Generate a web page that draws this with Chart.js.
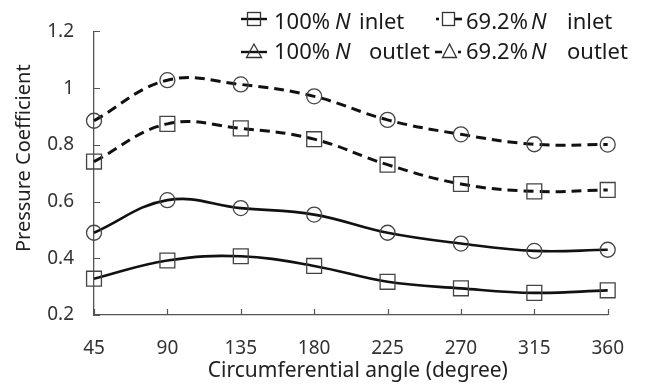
<!DOCTYPE html>
<html>
<head>
<meta charset="utf-8">
<script src="https://cdn.jsdelivr.net/npm/chart.js@4.4.1/dist/chart.umd.min.js"></script>
<style>
  html,body{margin:0;padding:0;background:#fff;}
  #wrap{position:relative;width:646px;height:388px;overflow:hidden;}
  #c{position:absolute;left:0;top:0;}
  .lg{position:absolute;font-family:"Noto Sans",sans-serif;font-size:22px;line-height:22px;color:#1a1a1a;white-space:nowrap;}
  .lg i{font-style:italic;}
  .mk{position:absolute;}
</style>
</head>
<body>
<div id="wrap">
  <canvas id="c" width="646" height="388"></canvas>
  <div id="legend"></div>
</div>
<script>
// ---- data ----
const angles = [45, 90, 135, 180, 225, 270, 315, 360];
const inlet100  = [0.328, 0.392, 0.407, 0.373, 0.317, 0.294, 0.278, 0.287];
const outlet100 = [0.490, 0.605, 0.577, 0.554, 0.490, 0.452, 0.426, 0.430];
const inlet692  = [0.741, 0.874, 0.858, 0.820, 0.730, 0.662, 0.636, 0.641];
const outlet692 = [0.885, 1.028, 1.013, 0.971, 0.888, 0.837, 0.802, 0.801];
const yTickValues = [0.2, 0.4, 0.6, 0.8, 1.0, 1.2];
const yTickLabels = ['0.2', '0.4', '0.6', '0.8', '1', '1.2'];
const xTickLabels = ['45', '90', '135', '180', '225', '270', '315', '360'];
const legendPrefix = ['100%', '69.2%', '100%', '69.2%'];
const legendSuffix = ['inlet', 'inlet', 'outlet', 'outlet'];
const xTitle = 'Circumferential angle (degree)';
const yTitle = 'Pressure Coefficient';

const FONT = '"Noto Sans", sans-serif';
const pts = arr => arr.map((v, i) => ({x: angles[i], y: v}));

function ds(label, arr, style, dashed) {
  return {
    label: label,
    data: pts(arr),
    borderColor: '#111',
    borderWidth: dashed ? 3 : 2.6,
    borderDash: dashed ? [10, 6] : [],
    tension: 0.4,
    pointStyle: style,
    pointRadius: style === 'rect' ? 10.5 : 7.5,
    pointBorderColor: '#444',
    pointBorderWidth: 1.3,
    pointBackgroundColor: 'rgba(0,0,0,0)',
    clip: false
  };
}

const innerTicks = {
  id: 'innerTicks',
  afterDraw(chart) {
    const ctx = chart.ctx, x = chart.scales.x, y = chart.scales.y;
    const a = chart.chartArea;
    ctx.save();
    ctx.strokeStyle = '#555';
    ctx.lineWidth = 1.2;
    ctx.beginPath();
    angles.forEach(v => {
      const px = Math.round(x.getPixelForValue(v)) + 0.5;
      ctx.moveTo(px, a.bottom);
      ctx.lineTo(px, a.bottom - 6);
    });
    yTickValues.forEach(v => {
      const py = Math.round(y.getPixelForValue(v)) + 0.5;
      ctx.moveTo(a.left, py);
      ctx.lineTo(a.left + 6, py);
    });
    ctx.stroke();
    // axis titles
    ctx.fillStyle = '#222';
    ctx.textAlign = 'center';
    ctx.textBaseline = 'middle';
    ctx.font = '21px ' + FONT;
    ctx.fillText(xTitle, (a.left + a.right) / 2 + 7, 371);
    ctx.font = '20px ' + FONT;
    ctx.translate(24, a.top + (a.bottom - a.top) / 2 - 15);
    ctx.rotate(-Math.PI / 2);
    ctx.fillText(yTitle, 0, 0);
    ctx.restore();
  }
};

new Chart(document.getElementById('c'), {
  type: 'line',
  data: {
    datasets: [
      ds('100% N inlet', inlet100, 'rect', false),
      ds('100% N outlet', outlet100, 'circle', false),
      ds('69.2% N inlet', inlet692, 'rect', true),
      ds('69.2% N outlet', outlet692, 'circle', true)
    ]
  },
  options: {
    responsive: false,
    animation: false,
    devicePixelRatio: 1,
    layout: {padding: {left: 0, top: 20, right: 24, bottom: 0}},
    plugins: {legend: {display: false}, tooltip: {enabled: false}},
    scales: {
      x: {
        type: 'linear',
        min: 45, max: 360,
        afterBuildTicks: s => { s.ticks = angles.map(v => ({value: v})); },
        afterFit: s => { s.height = 73; },
        grid: {display: false, drawTicks: false},
        border: {display: true, color: '#555', width: 1.3},
        ticks: {
          padding: 22,
          color: '#333',
          font: {family: FONT, size: 19},
          maxRotation: 0,
          callback: (v, i) => xTickLabels[i]
        }
      },
      y: {
        type: 'linear',
        min: 0.2, max: 1.2,
        afterBuildTicks: s => { s.ticks = yTickValues.map(v => ({value: v})); },
        afterFit: s => { s.width = 94; },
        grid: {display: false, drawTicks: false},
        border: {display: true, color: '#555', width: 1.3},
        ticks: {
          padding: 20,
          color: '#333',
          font: {family: FONT, size: 19},
          callback: (v, i) => yTickLabels[i]
        }
      }
    }
  },
  plugins: [innerTicks]
});

// ---- legend (HTML, real text) ----
const markers = [
  '<svg width="26" height="20"><line x1="0" y1="10" x2="26" y2="10" stroke="#111" stroke-width="2.4"/><rect x="6.5" y="3.5" width="13" height="13" fill="none" stroke="#333" stroke-width="1.3"/></svg>',
  '<svg width="28" height="20"><line x1="1" y1="10" x2="4" y2="10" stroke="#111" stroke-width="2.6"/><line x1="19" y1="10" x2="27" y2="10" stroke="#111" stroke-width="2.6"/><rect x="7.5" y="3.5" width="12" height="13" fill="none" stroke="#333" stroke-width="1.3"/></svg>',
  '<svg width="26" height="20"><line x1="0" y1="11" x2="26" y2="11" stroke="#111" stroke-width="2.4"/><polygon points="13,3 5.5,16.5 20.5,16.5" fill="none" stroke="#333" stroke-width="1.3"/></svg>',
  '<svg width="28" height="20"><line x1="0" y1="11" x2="7" y2="11" stroke="#111" stroke-width="2.6"/><line x1="23" y1="11" x2="26" y2="11" stroke="#111" stroke-width="2.6"/><polygon points="14.5,3 7.5,16.5 21.5,16.5" fill="none" stroke="#333" stroke-width="1.3"/></svg>'
];
const colMarkerX = [241, 435];
const colPrefixX = [274, 466];
const colNX = [335, 531];
const suffixX = [[359, 567], [369, 567]];
const rowTop = [9, 39];
const rowMarkerTop = [9, 41];
let html = '';
for (let k = 0; k < 4; k++) {
  const col = k % 2, row = k < 2 ? 0 : 1;
  html += `<div class="mk" style="left:${colMarkerX[col]}px;top:${rowMarkerTop[row]}px">${markers[k]}</div>`;
  html += `<div class="lg" style="left:${colPrefixX[col]}px;top:${rowTop[row]}px">${legendPrefix[k]}</div>`;
  html += `<div class="lg" style="left:${colNX[col]}px;top:${rowTop[row]}px"><i>N</i></div>`;
  html += `<div class="lg" style="left:${suffixX[row][col]}px;top:${rowTop[row]}px">${legendSuffix[k]}</div>`;
}
document.getElementById('legend').innerHTML = html;
</script>
</body>
</html>
